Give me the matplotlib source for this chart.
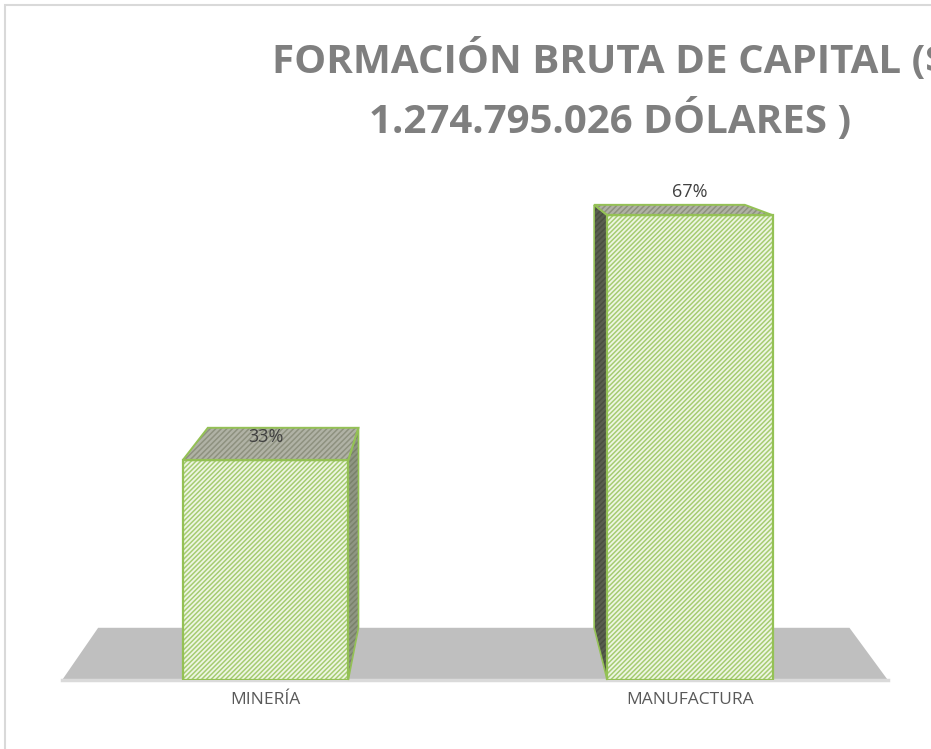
import matplotlib.pyplot as plt
from matplotlib.patches import Polygon, Rectangle

# Data
categories = ['MINERÍA', 'MANUFACTURA']
values = [33, 67]
value_labels = ['33%', '67%']
title = 'FORMACIÓN BRUTA DE CAPITAL ($\n1.274.795.026 DÓLARES )'

plt.rcParams['font.family'] = ['Open Sans', 'DejaVu Sans']
plt.rcParams['hatch.linewidth'] = 1.1

fig = plt.figure(figsize=(9.31, 7.49), dpi=100)
ax = fig.add_axes([32 / 931, 69 / 749, 891.45 / 931, 514 / 749])

# axis floor value and 3D perspective settings
base = 2.5
vp = (0.463, 83.0)
k = 0.09


def back(x, y):
    return (x + k * (vp[0] - x), y + k * (vp[1] - y))


ax.set_xlim(-0.55, 1.55)
ax.set_ylim(base, base + 71.33)

# gray floor
fl, fr = -0.479, 1.466
floor = [(fl, base), (fr, base), back(fr, base), back(fl, base)]
ax.add_patch(Polygon(floor, closed=True, facecolor='#bfbfbf', edgecolor='none', zorder=1, clip_on=False))
ax.plot([fl, fr], [base, base], color='#dadada', lw=2.5, zorder=1.5, clip_on=False)

x = list(range(len(categories)))
heights = [v - base for v in values]
bars = ax.bar(x, heights, bottom=base, width=0.39, color='#eef6e3', edgecolor='#a6cc72',
              hatch='/' * 7, lw=0, zorder=3)
ax.bar(x, heights, bottom=base, width=0.39, fill=False, edgecolor='#94c155', lw=1.6, zorder=4)

for rect in bars:
    x0 = rect.get_x()
    x1 = x0 + rect.get_width()
    y0 = rect.get_y()
    y1 = y0 + rect.get_height()
    # top face
    top = [(x0, y1), (x1, y1), back(x1, y1), back(x0, y1)]
    ax.add_patch(Polygon(top, closed=True, facecolor='#b0b2a5', edgecolor='#8e917f',
                         hatch='/' * 6, lw=0, zorder=2, clip_on=False))
    ax.add_patch(Polygon(top, closed=True, fill=False, edgecolor='#94c155', lw=1.4, zorder=4, clip_on=False))
    # side face
    if vp[0] > x1:
        side = [(x1, y1), back(x1, y1), back(x1, y0), (x1, y0)]
        fc, hc = '#8f9683', '#7a826b'
    else:
        side = [(x0, y1), back(x0, y1), back(x0, y0), (x0, y0)]
        fc, hc = '#595e4f', '#4a4f41'
    ax.add_patch(Polygon(side, closed=True, facecolor=fc, edgecolor=hc,
                         hatch='/' * 6, lw=0, zorder=2, clip_on=False))
    ax.add_patch(Polygon(side, closed=True, fill=False, edgecolor='#94c155', lw=1.2, zorder=2.5, clip_on=False))

for xi, v, lbl in zip(x, values, value_labels):
    ax.annotate(lbl, (xi, v), xytext=(0, 17), textcoords='offset points', ha='center', va='center',
                fontsize=13, color='#404040', zorder=6)

ax.set_xticks(x, categories)
ax.set_yticks([])
ax.tick_params(axis='x', length=0, pad=9, labelsize=12.5, labelcolor='#595959')
for s in ax.spines.values():
    s.set_visible(False)
ax.patch.set_visible(False)

fig.text(610 / 931, 1 - 39 / 749, title, ha='center', va='top', fontsize=29, fontweight='bold',
         color='#7f7f7f', linespacing=1.5)

# chart border
fig.add_artist(Rectangle((4.5 / 931, -0.1), 2, (749 - 4.5) / 749 + 0.1, transform=fig.transFigure,
                         fill=False, edgecolor='#d9d9d9', lw=1.5))

fig.savefig('out.png', dpi=100, facecolor='white')
